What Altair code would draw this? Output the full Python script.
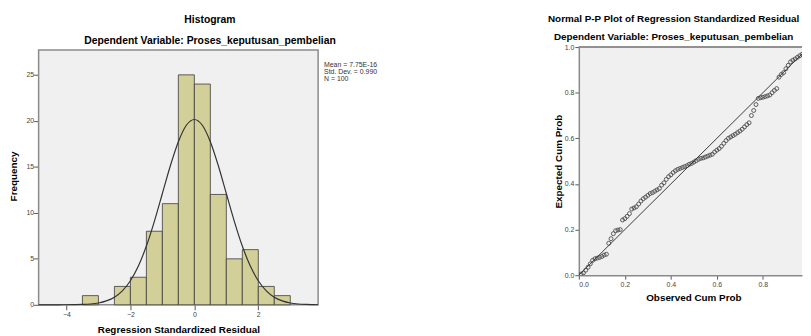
import altair as alt
import pandas as pd

FONT = "Liberation Sans"

# ---------------- Histogram data ----------------
bin_start = [-3.5, -2.5, -2.0, -1.5, -1.0, -0.5, 0.0, 0.5, 1.0, 1.5, 2.0, 2.5]
bin_end = [-3.0, -2.0, -1.5, -1.0, -0.5, 0.0, 0.5, 1.0, 1.5, 2.0, 2.5, 3.0]
freq = [1, 2, 3, 8, 11, 25, 24, 12, 5, 6, 2, 1]

# normal curve
curve_x = [-4.87, -4.5, -4.25, -4.0, -3.75, -3.5, -3.25, -3.0, -2.75, -2.5, -2.25,
           -2.0, -1.75, -1.5, -1.25, -1.0, -0.75, -0.5, -0.25, 0.0, 0.25, 0.5,
           0.75, 1.0, 1.25, 1.5, 1.75, 2.0, 2.25, 2.5, 2.75, 3.0, 3.25, 3.5, 3.75, 3.87]
curve_y = [0.0, 0.0, 0.0, 0.01, 0.02, 0.04, 0.09, 0.20, 0.43, 0.83, 1.52,
           2.62, 4.22, 6.39, 9.08, 12.10, 15.12, 17.73, 19.52, 20.15, 19.52, 17.73,
           15.12, 12.10, 9.08, 6.39, 4.22, 2.62, 1.52, 0.83, 0.43, 0.20, 0.09, 0.04, 0.02, 0.01]

stats_text = "Mean = 7.75E-16\nStd. Dev. = 0.990\nN = 100"

# histogram frame extent (axis range)
hist_x_range = [-4.87, 3.87]
hist_y_range = [0, 27.7]

# ---------------- P-P plot data ----------------
obs_cum = [0.01, 0.02, 0.03, 0.04, 0.05, 0.06, 0.07, 0.08, 0.09, 0.10,
           0.11, 0.12, 0.13, 0.14, 0.15, 0.16, 0.17, 0.18, 0.19, 0.20,
           0.21, 0.22, 0.23, 0.24, 0.25, 0.26, 0.27, 0.28, 0.29, 0.30,
           0.31, 0.32, 0.33, 0.34, 0.35, 0.36, 0.37, 0.38, 0.39, 0.40,
           0.41, 0.42, 0.43, 0.44, 0.45, 0.46, 0.47, 0.48, 0.49, 0.50,
           0.51, 0.52, 0.53, 0.54, 0.55, 0.56, 0.57, 0.58, 0.59, 0.60,
           0.61, 0.62, 0.63, 0.64, 0.65, 0.66, 0.67, 0.68, 0.69, 0.70,
           0.71, 0.72, 0.73, 0.74, 0.75, 0.76, 0.77, 0.78, 0.79, 0.80,
           0.81, 0.82, 0.83, 0.84, 0.85, 0.86, 0.87, 0.88, 0.89, 0.90,
           0.91, 0.92, 0.93, 0.94, 0.95, 0.96, 0.97, 0.98, 0.99, 1.00]
exp_cum = [0.005, 0.010, 0.022, 0.035, 0.050, 0.065, 0.072, 0.075, 0.078, 0.082,
           0.088, 0.092, 0.140, 0.160, 0.182, 0.195, 0.198, 0.200, 0.242, 0.248,
           0.258, 0.270, 0.290, 0.295, 0.300, 0.312, 0.325, 0.335, 0.342, 0.350,
           0.358, 0.362, 0.368, 0.374, 0.380, 0.395, 0.405, 0.420, 0.432, 0.440,
           0.450, 0.458, 0.464, 0.468, 0.472, 0.476, 0.480, 0.486, 0.490, 0.496,
           0.502, 0.508, 0.512, 0.514, 0.518, 0.522, 0.526, 0.530, 0.540, 0.548,
           0.555, 0.565, 0.578, 0.590, 0.600, 0.606, 0.612, 0.618, 0.625, 0.632,
           0.640, 0.650, 0.660, 0.668, 0.700, 0.722, 0.748, 0.775, 0.778, 0.780,
           0.783, 0.786, 0.790, 0.800, 0.810, 0.818, 0.868, 0.880, 0.888, 0.905,
           0.920, 0.935, 0.942, 0.948, 0.955, 0.962, 0.968, 0.975, 0.985, 0.995]
ref_x = [0.0, 1.0]
ref_y = [0.0, 1.0]

hist_df = pd.DataFrame({"start": bin_start, "end": bin_end, "freq": freq})
curve_df = pd.DataFrame({"x": curve_x, "y": curve_y})
stats_df = pd.DataFrame({"label": [stats_text]})
pp_df = pd.DataFrame({"obs": obs_cum, "exp": exp_cum})
ref_df = pd.DataFrame({"x": ref_x, "y": ref_y})

FRAME = "#8a8a8a"
BG = "#f0f0f0"

# ---------------- Histogram ----------------
# plot area extends 3px above the frame so that both panels share a top line
hx = alt.Scale(domain=hist_x_range, nice=False, zero=False)
hy = alt.Scale(domain=[0, 28.02], nice=False)

frame = alt.Chart(stats_df).mark_rect(
    fill=BG, stroke=FRAME, strokeWidth=1.5
).encode(
    x=alt.datum(hist_x_range[0]), x2=alt.datum(hist_x_range[1]),
    y=alt.datum(hist_y_range[0]), y2=alt.datum(hist_y_range[1]),
)

bars = alt.Chart(hist_df).mark_bar(
    fill="#d3cf98", stroke="#3a3a3a", strokeWidth=0.8, opacity=1
).encode(
    x=alt.X("start:Q", scale=hx,
            axis=alt.Axis(values=[-4, -2, 0, 2], title="Regression Standardized Residual",
                          tickSize=5, labelPadding=1, titlePadding=7, domain=False)),
    x2="end:Q",
    y=alt.Y("freq:Q", scale=hy,
            axis=alt.Axis(values=[0, 5, 10, 15, 20, 25], title="Frequency",
                          tickSize=5, labelPadding=0, titlePadding=8, domain=False)),
    y2=alt.datum(0),
)

curve = alt.Chart(curve_df).mark_line(
    color="#333333", strokeWidth=1.2, interpolate="monotone"
).encode(x="x:Q", y="y:Q")

stats = alt.Chart(stats_df).mark_text(
    align="left", baseline="top", font=FONT, fontSize=7, lineHeight=7,
    color="#333333", lineBreak="\n"
).encode(x=alt.value(289), y=alt.value(14), text="label:N")

hist = alt.layer(frame, bars, curve, stats).properties(
    width=283, height=261,
    view=alt.ViewBackground(strokeWidth=0),
    title=alt.TitleParams(
        "Histogram",
        subtitle="Dependent Variable: Proses_keputusan_pembelian",
        dx=32, subtitlePadding=10, offset=1,
        fontSize=10.5, subtitleFontSize=10.5,
    ),
)

# ---------------- P-P plot ----------------
XMAX = 0.97
px = alt.Scale(domain=[0, XMAX], nice=False, zero=False)
py = alt.Scale(domain=[0, 1], nice=False)

pts = alt.Chart(pp_df).mark_point(
    shape="circle", filled=False, color="#4a4a4a", size=16, strokeWidth=0.9,
    opacity=1, clip=True
).encode(
    x=alt.X("obs:Q", scale=px,
            axis=alt.Axis(values=[0, 0.2, 0.4, 0.6, 0.8], format=".1f",
                          title="Observed Cum Prob", titleX=116,
                          tickSize=4, labelPadding=1, titlePadding=6)),
    y=alt.Y("exp:Q", scale=py,
            axis=alt.Axis(values=[0, 0.2, 0.4, 0.6, 0.8, 1.0], format=".1f",
                          title="Expected Cum Prob",
                          tickSize=4, labelPadding=1, titlePadding=1)),
)

diag = alt.Chart(ref_df).mark_line(color="#3a3a3a", strokeWidth=1, clip=True).encode(
    x="x:Q", y="y:Q"
)

top_edge = alt.Chart(ref_df).mark_rule(color=FRAME, strokeWidth=1.5).encode(
    x=alt.datum(0.0), x2=alt.datum(XMAX), y=alt.datum(1.0)
)

pp = alt.layer(pts, diag, top_edge).properties(
    width=226, height=231,
    view=alt.ViewBackground(fill=BG, strokeWidth=0),
    title=alt.TitleParams(
        "Normal P-P Plot of Regression Standardized Residual",
        subtitle="Dependent Variable: Proses_keputusan_pembelian",
        dx=-17, subtitlePadding=8, offset=1,
        fontSize=10, subtitleFontSize=10,
    ),
)

chart = alt.hconcat(hist, pp, spacing=172).properties(
    padding={"left": 0, "top": 4.5, "right": 0, "bottom": 0},
    background="white",
).configure_axis(
    labelFont=FONT, labelFontSize=7, labelColor="#444444",
    titleFont=FONT, titleFontSize=10, titleFontWeight="bold", titleColor="#000000",
    domainColor=FRAME, domainWidth=1.5, tickColor="#555555", grid=False,
).configure_title(
    font=FONT, fontWeight="bold", color="#000000", anchor="middle",
    subtitleFont=FONT, subtitleFontWeight="bold", subtitleColor="#000000",
)

chart.save("out.html", embed_options={"renderer": "svg", "actions": False})
